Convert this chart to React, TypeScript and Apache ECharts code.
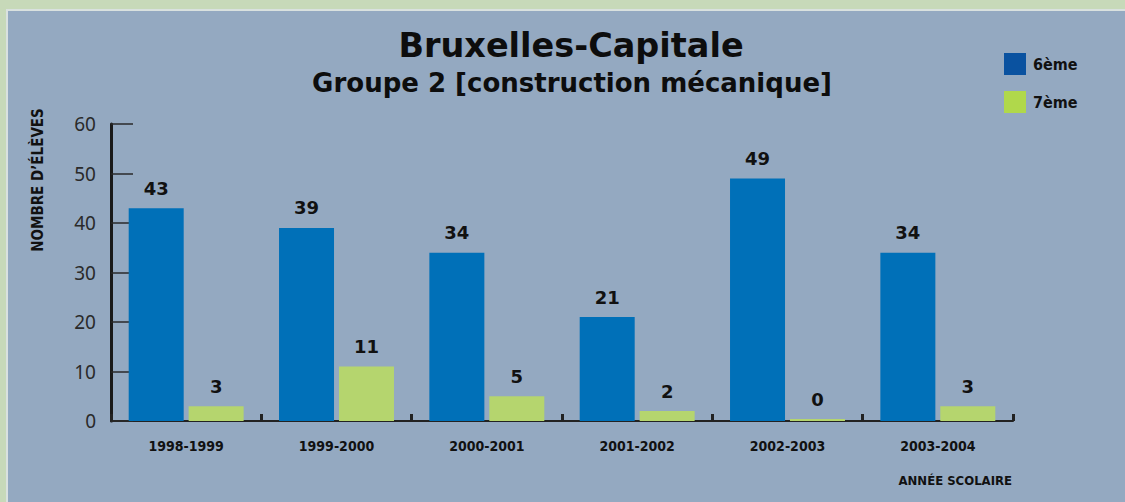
import React, { useEffect, useRef } from "react";
import * as echarts from "echarts";

const categories = ["1998-1999", "1999-2000", "2000-2001", "2001-2002", "2002-2003", "2003-2004"];
const sixieme = [43, 39, 34, 21, 49, 34];
const septieme = [3, 11, 5, 2, 0, 3];
const seriesNames = ["6ème", "7ème"];
const titleText = "Bruxelles-Capitale";
const subtitleText = "Groupe 2 [construction mécanique]";
const yAxisTitle = "NOMBRE D’ÉLÈVES";
const xAxisTitle = "ANNÉE SCOLAIRE";

const NARROW = "'DejaVu Sans Condensed', 'Liberation Sans Narrow', sans-serif";
const WIDE = "'DejaVu Sans', Verdana, sans-serif";

export default function App() {
  const ref = useRef<HTMLDivElement>(null);
  useEffect(() => {
    document.body.style.margin = "0";
    const chart = echarts.init(ref.current!, null, { renderer: "svg" });
    const labelStyle = {
      show: true,
      position: "top" as const,
      distance: 11,
      fontFamily: WIDE,
      fontWeight: "bold" as const,
      fontSize: 18,
      color: "#111",
    };
    chart.setOption({
      animation: false,
      backgroundColor: "#c7d9b9",
      title: [
        {
          text: titleText,
          left: 571,
          top: 28,
          textAlign: "center",
          padding: 0,
          textStyle: { fontFamily: WIDE, fontWeight: "bold", fontSize: 33.5, color: "#0d0d0d" },
        },
        {
          text: subtitleText,
          left: 572,
          top: 70,
          textAlign: "center",
          padding: 0,
          textStyle: { fontFamily: WIDE, fontWeight: "bold", fontSize: 26, color: "#0d0d0d" },
        },
      ],
      legend: {
        orient: "vertical",
        left: 1004,
        top: 53,
        padding: 0,
        itemWidth: 22,
        itemHeight: 22,
        itemGap: 16,
        icon: "rect",
        textStyle: { fontFamily: NARROW, fontWeight: "bold", fontSize: 16, color: "#111", padding: [0, 0, 0, 2] },
        data: [
          { name: seriesNames[0], itemStyle: { color: "#0a52a0" } },
          { name: seriesNames[1], itemStyle: { color: "#b0d84b" } },
        ],
      },
      graphic: [
        { type: "rect", z: -10, shape: { x: 6, y: 9, width: 1125, height: 502 }, style: { fill: "#d9e1df" } },
        { type: "rect", z: -9, shape: { x: 8, y: 11, width: 1125, height: 502 }, style: { fill: "#94a9c1" } },
        {
          type: "text",
          x: 38,
          y: 180,
          rotation: Math.PI / 2,
          style: {
            text: yAxisTitle,
            fontFamily: NARROW,
            fontWeight: "bold",
            fontSize: 15,
            fill: "#111",
            textAlign: "center",
            textVerticalAlign: "middle",
          },
        },
        {
          type: "text",
          x: 1012,
          y: 480,
          style: {
            text: xAxisTitle,
            fontFamily: NARROW,
            fontWeight: "bold",
            fontSize: 13,
            fill: "#111",
            textAlign: "right",
            textVerticalAlign: "middle",
          },
        },
      ],
      grid: { left: 111, right: 112, top: 124, bottom: 81, containLabel: false },
      xAxis: {
        type: "category",
        data: categories,
        axisLine: { lineStyle: { color: "#222", width: 2 } },
        axisTick: { show: true, inside: true, length: 7, lineStyle: { color: "#222", width: 3 } },
        axisLabel: { interval: 0, margin: 18, fontFamily: NARROW, fontWeight: "bold", fontSize: 14, color: "#111" },
      },
      yAxis: {
        type: "value",
        min: 0,
        max: 60,
        interval: 10,
        splitLine: { show: false },
        axisLine: { show: true, lineStyle: { color: "#1a1a1a", width: 3 } },
        axisTick: { show: true, inside: true, length: 22, lineStyle: { color: "#2a2a2a", width: 1.5 } },
        axisLabel: { margin: 15, fontFamily: "'Noto Sans', 'Open Sans', sans-serif", fontSize: 19, color: "#2a2a2a" },
      },
      series: [
        {
          name: seriesNames[0],
          type: "bar",
          data: sixieme,
          barWidth: 55,
          barGap: "9%",
          itemStyle: { color: "#0070b8" },
          label: labelStyle,
        },
        {
          name: seriesNames[1],
          type: "bar",
          data: septieme,
          barWidth: 55,
          barGap: "9%",
          barMinHeight: 2,
          itemStyle: { color: "#b5d56e" },
          label: labelStyle,
        },
      ],
    });
    return () => chart.dispose();
  }, []);
  return <div ref={ref} style={{ width: 1125, height: 502 }} />;
}
